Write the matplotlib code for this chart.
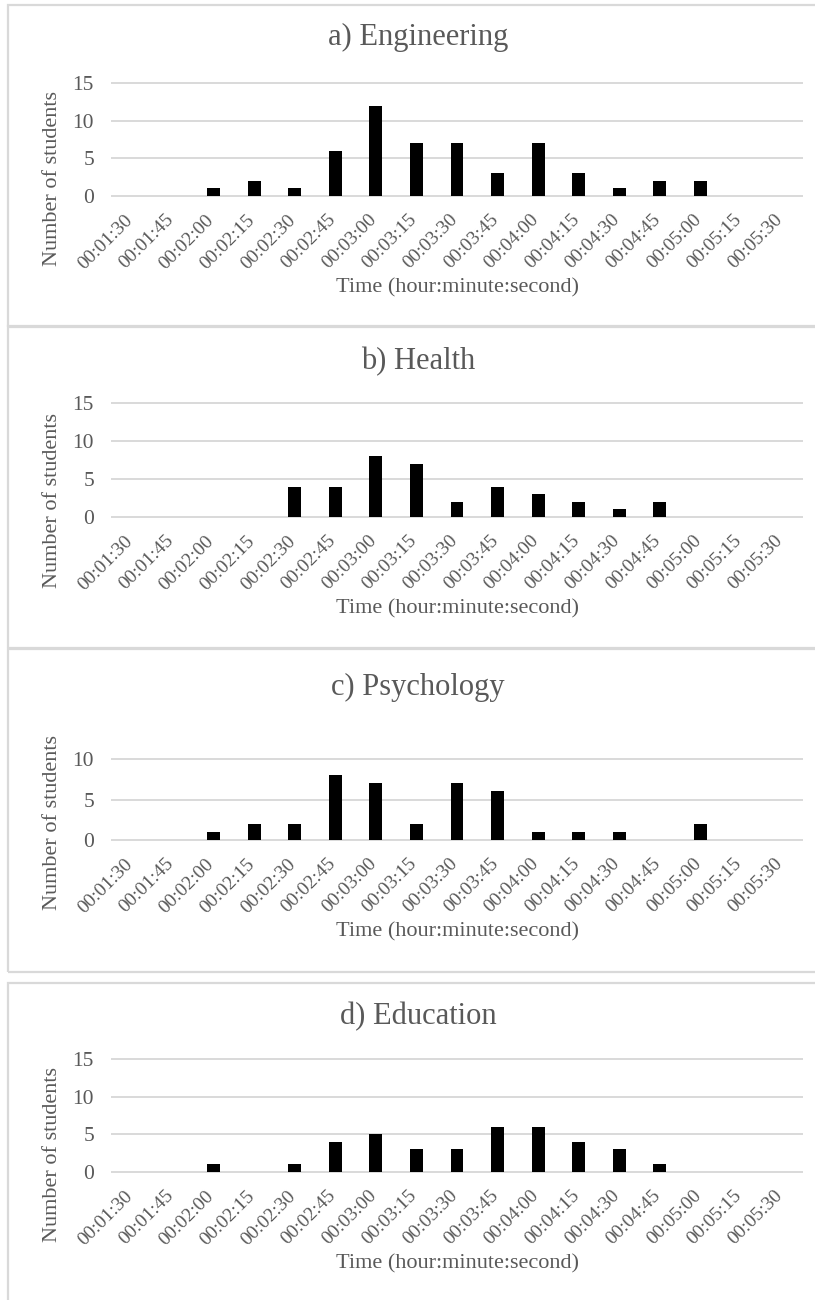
import matplotlib
matplotlib.use("Agg")
import matplotlib.pyplot as plt
from matplotlib.patches import Rectangle
from matplotlib.transforms import ScaledTranslation

plt.rcParams['font.family'] = ['Liberation Serif', 'DejaVu Serif']

times = ["00:01:30", "00:01:45", "00:02:00", "00:02:15", "00:02:30", "00:02:45",
         "00:03:00", "00:03:15", "00:03:30", "00:03:45", "00:04:00", "00:04:15",
         "00:04:30", "00:04:45", "00:05:00", "00:05:15", "00:05:30"]

engineering = [0, 0, 1, 2, 1, 6, 12, 7, 7, 3, 7, 3, 1, 2, 2, 0, 0]
health      = [0, 0, 0, 0, 4, 4, 8, 7, 2, 4, 3, 2, 1, 2, 0, 0, 0]
psychology  = [0, 0, 1, 2, 2, 8, 7, 2, 7, 6, 1, 1, 1, 0, 2, 0, 0]
education   = [0, 0, 1, 0, 1, 4, 5, 3, 3, 6, 6, 4, 3, 1, 0, 0, 0]

titles = ["a) Engineering", "b) Health", "c) Psychology", "d) Education"]
series = [engineering, health, psychology, education]
ymaxes = [15, 15, 10, 15]

W, H = 815, 1300
TXT = '#595959'
GRID = '#d9d9d9'

# pixel layout of each panel: frame top/bottom, title y, plot top/bottom
panels = [
    dict(frame=(5, 327), title=37, plot=(83, 196)),
    dict(frame=(326, 648), title=362, plot=(403, 517)),
    dict(frame=(649, 972), title=687, plot=(759, 840)),
    dict(frame=(983, 1310), title=1017, plot=(1059, 1172)),
]
PLOT_L, PLOT_R = 112, 802

fig = plt.figure(figsize=(W / 100, H / 100), dpi=100)

for p, title, vals, ymax in zip(panels, titles, series, ymaxes):
    ft, fb = p['frame']
    fig.add_artist(Rectangle((8 / W, 1 - fb / H), (860 - 8) / W, (fb - ft) / H,
                             transform=fig.transFigure, fill=False,
                             edgecolor=GRID, lw=1.6))
    fig.text(418 / W, 1 - p['title'] / H, title, ha='center', va='center',
             fontsize=22, color=TXT)

    pt, pb = p['plot']
    ax = fig.add_axes([PLOT_L / W, 1 - pb / H, (PLOT_R - PLOT_L) / W, (pb - pt) / H])
    ax.bar(range(len(times)), vals, width=0.32, color='black', zorder=3)
    ax.set_xlim(-0.5, len(times) - 0.5)
    ax.set_ylim(0, ymax)
    ax.set_yticks(range(0, ymax + 1, 5))
    ax.grid(axis='y', color=GRID, lw=1.4, zorder=0)
    for gl in ax.get_ygridlines():
        gl.set_clip_on(False)
    for s in ax.spines.values():
        s.set_visible(False)

    ax.set_xticks(range(len(times)))
    ax.set_xticklabels(times, rotation=45, ha='right')
    ax.tick_params(axis='x', length=0, pad=11, labelsize=14, labelcolor=TXT)
    ax.tick_params(axis='y', length=0, pad=13, labelsize=15.5, labelcolor=TXT)
    shift = ScaledTranslation(0.04, 0, fig.dpi_scale_trans)
    for lab in ax.get_xticklabels():
        lab.set_transform(lab.get_transform() + shift)

    h = pb - pt
    ax.set_ylabel("Number of students", fontsize=16, color=TXT)
    ax.yaxis.set_label_coords((52 - PLOT_L) / (PLOT_R - PLOT_L), 17 / h)
    ax.yaxis.label.set_va('center')
    ax.set_xlabel("Time (hour:minute:second)", fontsize=16, color=TXT)
    ax.xaxis.set_label_coords(0.5, -92 / h)
    ax.xaxis.label.set_va('center')

fig.savefig("out.png", dpi=100, facecolor='white')
